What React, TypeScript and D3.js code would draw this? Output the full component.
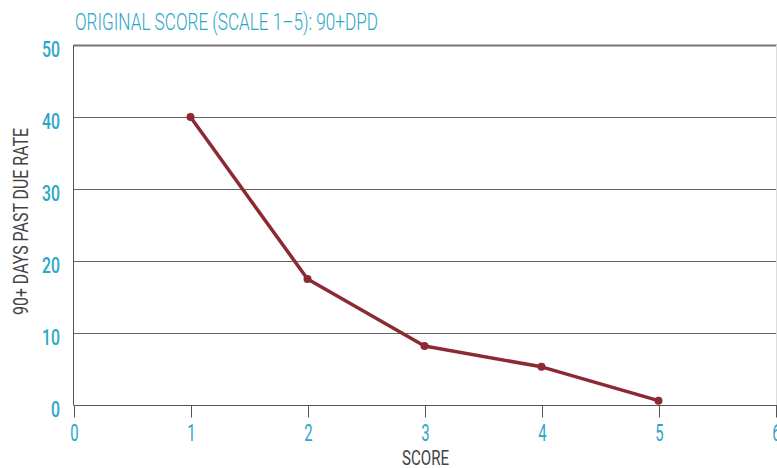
import { useEffect, useRef } from 'react';
import * as d3 from 'd3';

const scores = [1, 2, 3, 4, 5];
const dpdRates = [40, 17.5, 8.2, 5.3, 0.6];
const xTicks = [0, 1, 2, 3, 4, 5, 6];
const yTicks = [0, 10, 20, 30, 40, 50];

const W = 777;
const H = 468;
const FONT = "Roboto, 'DejaVu Sans', sans-serif";
const BLUE = '#2aa7c8';
const RED = '#8c2a33';

export default function App() {
  const svgRef = useRef<SVGSVGElement>(null);

  useEffect(() => {
    if (!svgRef.current) return;
    const svg = d3.select(svgRef.current);
    svg.selectAll('*').remove();

    const x = d3.scaleLinear().domain([0, 6]).range([73.5, 775.5]);
    const y = d3.scaleLinear().domain([0, 50]).range([405, 45]);

    // title, squeezed to a condensed look
    svg.append('text')
      .attr('x', 75)
      .attr('y', 30)
      .attr('textLength', 303)
      .attr('lengthAdjust', 'spacingAndGlyphs')
      .style('font-family', FONT)
      .style('font-size', '24px')
      .style('font-weight', 300)
      .style('fill', BLUE)
      .text('ORIGINAL SCORE (SCALE 1–5): 90+DPD');

    // gridlines
    svg.append('g').selectAll('line')
      .data(yTicks.filter(d => d > 0))
      .join('line')
      .attr('x1', x(0))
      .attr('x2', W)
      .attr('y1', d => Math.round(y(d)) + 0.5)
      .attr('y2', d => Math.round(y(d)) + 0.5)
      .style('stroke', d => (d === 50 ? '#777' : '#666'))
      .style('stroke-width', d => (d === 50 ? 2 : 1));

    // right edge
    svg.append('line')
      .attr('x1', 776.5).attr('x2', 776.5)
      .attr('y1', y(50)).attr('y2', y(0))
      .style('stroke', '#ddd');

    // y axis line
    svg.append('line')
      .attr('x1', 73.5).attr('x2', 73.5)
      .attr('y1', y(50)).attr('y2', y(0))
      .style('stroke', '#555');

    // x axis
    const xAxis = svg.append('g').attr('transform', `translate(0,${Math.round(y(0)) + 0.5})`);
    xAxis.append('line')
      .attr('x1', x(0)).attr('x2', W)
      .style('stroke', '#555');
    xAxis.selectAll('line.tick')
      .data(xTicks)
      .join('line')
      .attr('class', 'tick')
      .attr('x1', d => Math.round(x(d)) + 0.5)
      .attr('x2', d => Math.round(x(d)) + 0.5)
      .attr('y1', 0)
      .attr('y2', 12)
      .style('stroke', '#555');
    xAxis.selectAll('text')
      .data(xTicks)
      .join('text')
      .attr('transform', d => `translate(${x(d) + 1},35) scale(0.62,1)`)
      .attr('text-anchor', 'middle')
      .style('font-family', FONT)
      .style('font-size', '24px')
      .style('fill', BLUE)
      .text(d => d);

    // y tick labels
    svg.append('g').selectAll('text')
      .data(yTicks)
      .join('text')
      .attr('transform', d => `translate(60,${y(d) + 12}) scale(0.72,1)`)
      .attr('text-anchor', 'end')
      .style('font-family', FONT)
      .style('font-size', '22px')
      .style('font-weight', 500)
      .style('fill', BLUE)
      .text(d => d);

    // axis titles
    svg.append('text')
      .attr('x', 402)
      .attr('y', 465)
      .attr('textLength', 47)
      .attr('lengthAdjust', 'spacingAndGlyphs')
      .style('font-family', FONT)
      .style('font-size', '20px')
      .style('fill', '#444')
      .text('SCORE');

    svg.append('text')
      .attr('transform', `translate(28,315) rotate(-90)`)
      .attr('textLength', 187)
      .attr('lengthAdjust', 'spacingAndGlyphs')
      .style('font-family', FONT)
      .style('font-size', '20px')
      .style('fill', '#444')
      .text('90+ DAYS PAST DUE RATE');

    // line
    const pts = scores.map((s, i) => [s, dpdRates[i]] as [number, number]);
    const line = d3.line<[number, number]>()
      .x(d => x(d[0]))
      .y(d => y(d[1]));
    svg.append('path')
      .datum(pts)
      .attr('d', line)
      .style('fill', 'none')
      .style('stroke', RED)
      .style('stroke-width', 3.5)
      .style('stroke-linejoin', 'round');
    svg.append('g').selectAll('circle')
      .data(pts)
      .join('circle')
      .attr('cx', d => x(d[0]))
      .attr('cy', d => y(d[1]))
      .attr('r', 4)
      .style('fill', RED);
  }, []);

  return (
    <svg
      ref={svgRef}
      width={W}
      height={H}
      style={{ position: 'absolute', left: 0, top: 0, background: '#fff' }}
    />
  );
}
